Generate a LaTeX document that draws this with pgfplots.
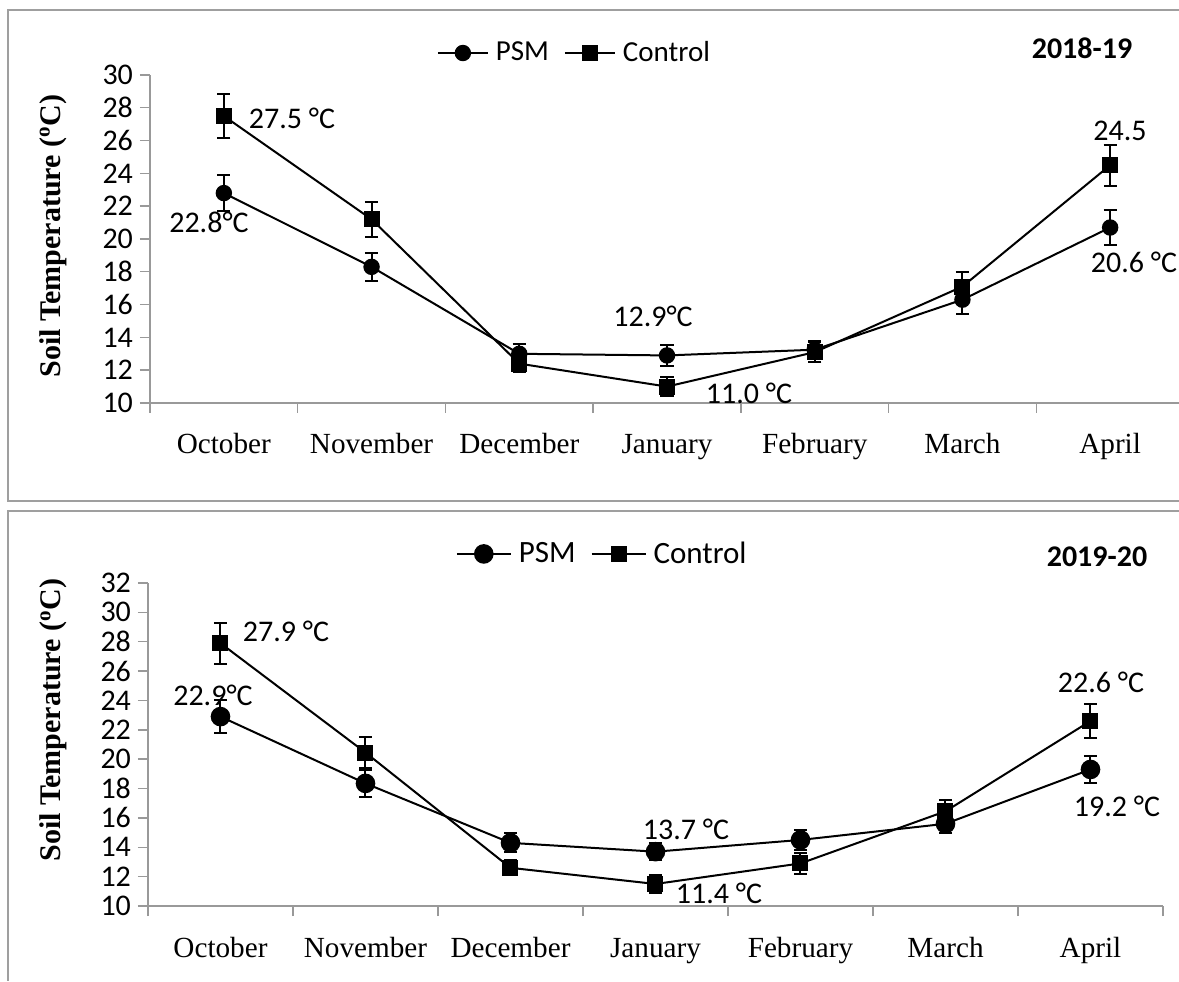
\documentclass[border=0pt]{standalone}
\usepackage{pgfplots}
\pgfplotsset{compat=1.18}
\usepackage{pgfplotstable}
\usepackage{fontspec}
\setmainfont{Carlito}
\newfontfamily\serif{Liberation Serif}

\pgfplotstableread{
x psm pe ctl ce
0 22.8 1.1 27.5 1.35
1 18.3 0.85 21.2 1.05
2 13.0 0.6 12.4 0.5
3 12.9 0.65 11.0 0.6
4 13.25 0.55 13.1 0.6
5 16.3 0.85 17.1 0.9
6 20.7 1.05 24.5 1.25
}\topdata

\pgfplotstableread{
x psm pe ctl ce
0 22.9 1.1 27.9 1.4
1 18.35 0.9 20.45 1.05
2 14.3 0.65 12.6 0.5
3 13.7 0.6 11.5 0.6
4 14.5 0.7 12.9 0.7
5 15.6 0.6 16.45 0.8
6 19.3 0.95 22.6 1.15
}\botdata

\pgfplotsset{
  panel/.style={
    scale only axis,
    clip=false,
    axis x line*=bottom,
    axis y line*=left,
    axis line style={draw=gray!80,line width=0.7pt,-},
    xmin=-0.5, xmax=6.5,
    xtick={0,...,6},
    xticklabels={October,November,December,January,February,March,April},
    minor xtick={-0.5,0.5,...,6.5},
    major x tick style={draw=none},
    minor x tick style={draw=gray!80,line width=0.7pt},
    minor tick length=5pt,
    major tick length=5pt,
    tick align=outside,
    ytick style={draw=gray!80,line width=0.7pt},
    ytick distance=2,
    /pgf/number format/assume math mode=true,
    yticklabel style={font=\fontsize{15}{15}\selectfont, xshift=0pt},
    xticklabel style={font=\serif\fontsize{14.6}{15}\selectfont, anchor=center,
      text height=10pt, text depth=3pt},
    ylabel={Soil Temperature (\textsuperscript{o}C)},
    ylabel style={font=\serif\bfseries\fontsize{15}{15}\selectfont, anchor=center},
    legend columns=2,
    legend style={draw=none, fill=none, font=\fontsize{14.5}{15}\selectfont,
      /tikz/every even column/.append style={column sep=7pt},
      /tikz/every odd column/.append style={column sep=3pt},
      inner sep=0pt, nodes={inner sep=0.5pt}},
    legend image code/.code={\draw[black,line width=1pt] (0pt,0pt) -- (25pt,0pt);
      \draw[#1, line width=1pt, mark repeat=1] plot coordinates {(12.5pt,0pt)};},
    error bars/error bar style={line width=1pt, black},
    error bars/error mark options={rotate=90, mark size=3.3pt, line width=1pt, black},
  }
}

\begin{document}
\begin{tikzpicture}[x=0.5pt,y=0.5pt]
\path[use as bounding box] (0,0) rectangle (1179,981);
% frames
\draw[gray!75, line width=1.2pt] (1179,971) -- (8,971) -- (8,480) -- (1179,480);
\draw[gray!75, line width=1.2pt] (1179,470) -- (8,470) -- (8,0);

\begin{axis}[panel,
  at={(75pt,289pt)}, anchor=south west,
  width=517pt, height=164pt,
  ymin=10, ymax=30,
  xticklabel style={yshift=-17pt},
  ylabel style={at={(axis description cs:-0.094,0.509)}},
  legend style={at={(axis description cs:0.410,1.067)}, anchor=center},
]
\addplot[black, line width=1pt, mark=*, mark size=3.6pt, mark options={solid,fill=black,draw=black},
  error bars/.cd, y dir=both, y explicit]
  table[x=x, y=psm, y error=pe] {\topdata};
\addlegendentry{PSM}
\addplot[black, line width=1pt, mark=square*, mark size=3.5pt, mark options={solid,fill=black,draw=black},
  error bars/.cd, y dir=both, y explicit]
  table[x=x, y=ctl, y error=ce] {\topdata};
\addlegendentry{Control}
\end{axis}

\begin{axis}[panel,
  at={(74pt,37.5pt)}, anchor=south west,
  width=507.5pt, height=161.5pt,
  ymin=10, ymax=32,
  xticklabel style={yshift=-17pt},
  ylabel style={at={(axis description cs:-0.093,0.576)}},
  legend style={at={(axis description cs:0.447,1.090)}, anchor=center,
    font=\fontsize{15.5}{16}\selectfont},
  legend image code/.code={\draw[black,line width=1pt] (0pt,0pt) -- (27pt,0pt);
      \draw[#1, line width=1pt, mark repeat=1] plot coordinates {(13.5pt,0pt)};},
]
\addplot[black, line width=1pt, mark=*, mark size=4.4pt, mark options={solid,fill=black,draw=black},
  error bars/.cd, y dir=both, y explicit]
  table[x=x, y=psm, y error=pe] {\botdata};
\addlegendentry{PSM}
\addplot[black, line width=1pt, mark=square*, mark size=3.5pt, mark options={solid,fill=black,draw=black},
  error bars/.cd, y dir=both, y explicit]
  table[x=x, y=ctl, y error=ce] {\botdata};
\addlegendentry{Control}
\end{axis}

\begin{scope}[every node/.style={font=\fontsize{15}{15}\selectfont, inner sep=0pt}]
% top panel labels (pixel coords: x, 981 - y)
\node at (292,863) {27.5 °C};
\node at (209,759) {22.8°C};
\node at (653,665) {12.9°C};
\node at (749,588) {11.0 °C};
\node at (1120,850) {24.5};
\node at (1134,719) {20.6 °C};
\node[font=\bfseries\fontsize{15}{15}\selectfont] at (1082,933) {2018-19};
% bottom panel labels
\node at (286,350) {27.9 °C};
\node at (213,286) {22.9°C};
\node at (686,152) {13.7 °C};
\node at (719,88) {11.4 °C};
\node at (1101,299) {22.6 °C};
\node at (1117,175) {19.2 °C};
\node[font=\bfseries\fontsize{15}{15}\selectfont] at (1097,424) {2019-20};
\end{scope}
\end{tikzpicture}
\end{document}
